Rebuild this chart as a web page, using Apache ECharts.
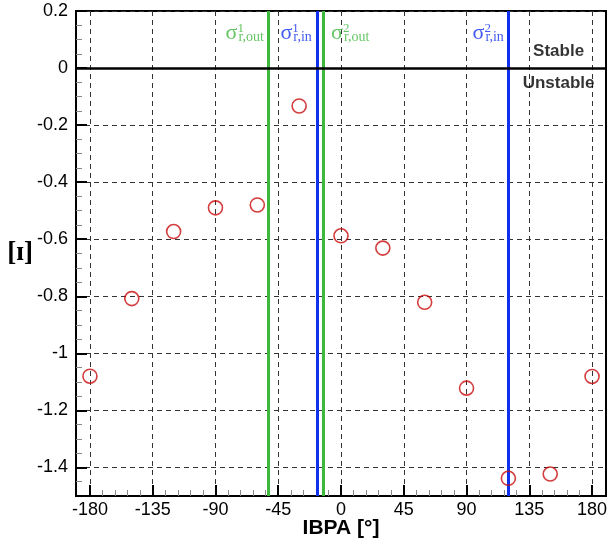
<!DOCTYPE html>
<html>
<head>
<meta charset="utf-8">
<script src="https://cdn.jsdelivr.net/npm/echarts@6/dist/echarts.min.js"></script>
<style>
html,body{margin:0;padding:0;background:#fff;}
#c{width:609px;height:544px;}
</style>
</head>
<body>
<div id="c"></div>
<script>
// ---- data ----
const ibpa = [-180, -150, -120, -90, -60, -30, 0, 30, 60, 90, 120, 150, 180];
const damping = [-1.08, -0.808, -0.573, -0.49, -0.48, -0.133, -0.588, -0.631, -0.821, -1.122, -1.438, -1.423, -1.081];
const xTicks = [-180, -135, -90, -45, 0, 45, 90, 135, 180];
const yTicks = [0.2, 0, -0.2, -0.4, -0.6, -0.8, -1, -1.2, -1.4];
const sigmaOut = [-52, -12.5];
const sigmaIn = [-17, 120];
const sigmaOutLabels = ['1', '2'];
const sigmaInLabels = ['1', '2'];
const stabilityText = ['Stable', 'Unstable'];

const GREEN = '#3cb83c';
const BLUE = '#1030f0';
const RED = '#c80c0c';
const SANS = 'Liberation Sans, Arial, sans-serif';
const SERIF = 'Liberation Serif, DejaVu Serif, serif';

// minor tick values derived from the major ticks
const xMinor = [];
for (let i = 0; i < xTicks.length - 1; i++) {
  const step = (xTicks[i + 1] - xTicks[i]) / 5;
  for (let k = 1; k < 5; k++) xMinor.push(xTicks[i] + k * step);
}
const yMinor = [];
for (let i = 0; i < yTicks.length - 1; i++) {
  const step = (yTicks[i + 1] - yTicks[i]) / 4;
  for (let k = 1; k < 4; k++) yMinor.push(+(yTicks[i] + k * step).toFixed(3));
}
yMinor.push(-1.45);

const labelY = 0.123;
const rich = {
  s: { fontSize: 22, lineHeight: 22, align: 'left', fontFamily: SERIF },
  sp: { fontSize: 13, lineHeight: 22, width: 1, align: 'left', verticalAlign: 'top', fontFamily: SERIF },
  sb: { fontSize: 14, lineHeight: 22, align: 'left', verticalAlign: 'bottom', fontFamily: SERIF }
};
function sigmaLabel(sup, sub, color, pos, dist) {
  return {
    show: true, position: pos, distance: dist, color: color,
    formatter: '{s|σ}{sp|' + sup + '}{sb|' + sub + '}',
    rich: rich
  };
}

const labelData = [
  { value: [sigmaOut[0], labelY], label: sigmaLabel(sigmaOutLabels[0], 'r,out', GREEN, 'left', 4) },
  { value: [sigmaIn[0], labelY], label: sigmaLabel(sigmaInLabels[0], 'r,in', BLUE, 'left', 5) },
  { value: [sigmaOut[1], labelY], label: sigmaLabel(sigmaOutLabels[1], 'r,out', GREEN, 'right', 7) },
  { value: [sigmaIn[1], labelY], label: sigmaLabel(sigmaInLabels[1], 'r,in', BLUE, 'left', 4) }
];

const markLines = [];
sigmaOut.forEach(v => markLines.push({ xAxis: v, lineStyle: { color: GREEN, width: 3, type: 'solid' } }));
sigmaIn.forEach(v => markLines.push({ xAxis: v, lineStyle: { color: BLUE, width: 3, type: 'solid' } }));
markLines.push({ yAxis: 0, lineStyle: { color: '#000', width: 2.5, type: 'solid' } });

const chart = echarts.init(document.getElementById('c'), null, { renderer: 'canvas' });
chart.setOption({
  animation: false,
  backgroundColor: '#fff',
  grid: { left: 76, right: 3, top: 11, bottom: 48, show: true, borderColor: '#000', borderWidth: 2, containLabel: false, outerBoundsMode: 'none' },
  xAxis: [
    {
      type: 'value', min: -190, max: 190, position: 'bottom',
      name: 'IBPA [°]', nameLocation: 'middle', nameGap: 22, nameMoveOverlap: false,
      nameTextStyle: { fontSize: 21, fontWeight: 'bold', color: '#000', fontFamily: SANS },
      axisLine: { show: true, onZero: false, lineStyle: { color: '#000', width: 2 } },
      axisTick: { show: true, inside: true, length: 11, customValues: xTicks, lineStyle: { color: '#000', width: 2 } },
      axisLabel: { show: true, customValues: xTicks, fontSize: 18, color: '#000', margin: 5, fontFamily: SANS },
      splitLine: { show: true, lineStyle: { color: '#333', width: 1, type: [5, 4] } }
    },
    {
      type: 'value', min: -190, max: 190, position: 'bottom',
      axisLine: { show: false, onZero: false },
      axisTick: { show: true, inside: true, length: 6, customValues: xMinor, lineStyle: { color: '#888', width: 1 } },
      axisLabel: { show: false },
      splitLine: { show: false }
    }
  ],
  yAxis: [
    {
      type: 'value', min: -1.5, max: 0.2, position: 'left',
      name: '[ɪ]', nameLocation: 'middle', nameGap: 43, nameRotate: 0, nameMoveOverlap: false,
      nameTextStyle: { fontSize: 27, fontWeight: 'bold', color: '#000', fontFamily: SERIF },
      axisLine: { show: true, onZero: false, lineStyle: { color: '#000', width: 2 } },
      axisTick: { show: true, inside: true, length: 11, customValues: yTicks, lineStyle: { color: '#000', width: 2 } },
      axisLabel: { show: true, customValues: yTicks, fontSize: 18, color: '#000', margin: 8, fontFamily: SANS },
      splitLine: { show: true, lineStyle: { color: '#333', width: 1, type: [5, 4] } }
    },
    {
      type: 'value', min: -1.5, max: 0.2, position: 'left',
      axisLine: { show: false, onZero: false },
      axisTick: { show: true, inside: true, length: 6, customValues: yMinor, lineStyle: { color: '#888', width: 1 } },
      axisLabel: { show: false },
      splitLine: { show: false }
    }
  ],
  series: [
    {
      type: 'scatter', xAxisIndex: 0, yAxisIndex: 0,
      data: ibpa.map((x, i) => [x, damping[i]]),
      symbol: 'circle', symbolSize: 14,
      itemStyle: { color: 'rgba(0,0,0,0)', borderColor: RED, borderWidth: 1.6 },
      z: 5,
      markLine: { silent: true, symbol: ['none', 'none'], label: { show: false }, data: markLines, z: 3 }
    },
    {
      type: 'scatter', xAxisIndex: 0, yAxisIndex: 0, silent: true,
      symbolSize: 1, itemStyle: { color: 'rgba(0,0,0,0)' },
      data: labelData, z: 6
    },
    {
      type: 'scatter', xAxisIndex: 0, yAxisIndex: 0, silent: true,
      symbolSize: 1, itemStyle: { color: 'rgba(0,0,0,0)' },
      label: { show: true, position: 'inside', fontSize: 17, fontWeight: 'bold', color: '#000', textBorderWidth: 0, fontFamily: SANS, formatter: p => p.data.name },
      data: [
        { name: stabilityText[0], value: [156, 0.057] },
        { name: stabilityText[1], value: [156, -0.052] }
      ],
      z: 6
    }
  ]
});
</script>
</body>
</html>
